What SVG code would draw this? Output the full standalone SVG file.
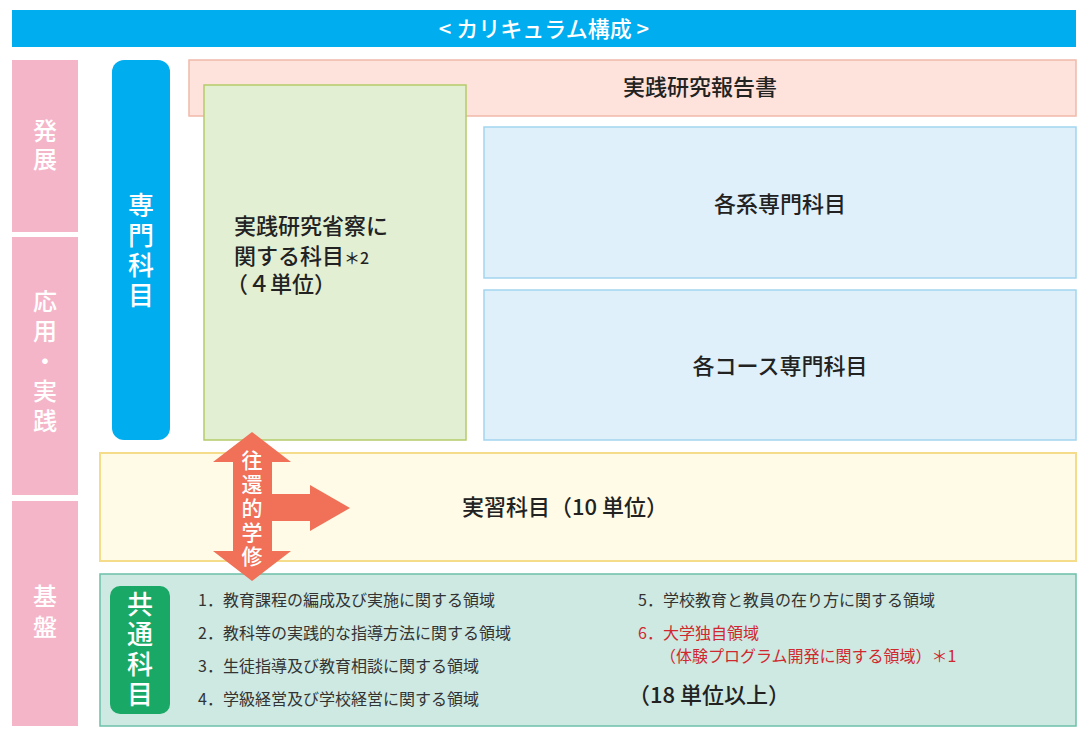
<svg xmlns="http://www.w3.org/2000/svg" width="1088" height="736" viewBox="0 0 1088 736">
<style>
text{font-family:"Noto Sans CJK JP","Noto Sans",sans-serif;}
.w{fill:#fff;font-size:24px;text-anchor:middle;font-weight:500;}
.t{fill:#222;font-size:22px;font-weight:500;}
.s{fill:#333;font-size:16px;}
.r{fill:#d0282e;}
.pk{fill:#f5b5c9;}
.bl{fill:#dff0fa;stroke:#a3d5ef;stroke-width:1.5;}
</style>
<rect width="1088" height="736" fill="#fff"/>
<g id="title"><rect x="12" y="10" width="1064" height="37" fill="#00aeef"/><text x="544" y="37" class="w" style="font-size:22px">&lt;  カリキュラム構成  &gt;</text></g>
<g id="hatten"><rect x="12" y="60" width="66" height="172" class="pk"/><text class="w" x="45" y="140">発</text><text class="w" x="45" y="168">展</text></g>
<g id="ouyou"><rect x="12" y="237" width="66" height="258" class="pk"/><text class="w" x="45" y="310">応</text><text class="w" x="45" y="340">用</text><text class="w" x="45" y="370">・</text><text class="w" x="45" y="400">実</text><text class="w" x="45" y="430">践</text></g>
<g id="kiban"><rect x="12" y="501" width="66" height="225" class="pk"/><text class="w" x="45" y="605">基</text><text class="w" x="45" y="636">盤</text></g>
<g id="senmon"><rect x="112" y="60" width="58" height="380" rx="12" fill="#00aeef"/><text class="w" x="141" y="215" style="font-size:26px">専</text><text class="w" x="141" y="245" style="font-size:26px">門</text><text class="w" x="141" y="275" style="font-size:26px">科</text><text class="w" x="141" y="305" style="font-size:26px">目</text></g>
<g id="report"><rect x="189" y="60" width="887" height="56" fill="#fde3dc" stroke="#f0b9a8" stroke-width="1.5"/><text class="t" x="700" y="95" text-anchor="middle">実践研究報告書</text></g>
<g id="seisatsu"><rect x="204" y="85" width="262" height="355" fill="#e3efd2" stroke="#b5cc6a" stroke-width="1.5"/><text class="t" x="234" y="234">実践研究省察に</text><text class="t" x="234" y="264">関する科目<tspan style="font-size:16px">＊2</tspan></text><text class="t" x="226" y="292">（４単位）</text></g>
<g id="kakukei"><rect x="484" y="127" width="592" height="151" class="bl"/><text class="t" x="780" y="212" text-anchor="middle">各系専門科目</text></g>
<g id="course"><rect x="484" y="290" width="592" height="150" class="bl"/><text class="t" x="780" y="374" text-anchor="middle">各コース専門科目</text></g>
<g id="jisshu"><rect x="100" y="453" width="976" height="108" fill="#fffbe6" stroke="#f5dc8a" stroke-width="2"/><text class="t" x="565" y="515" text-anchor="middle">実習科目（10 単位）</text></g>
<g id="kyotsu"><rect x="100" y="574" width="976" height="152" fill="#cde9e2" stroke="#6cc0a8" stroke-width="1.5"/>
<rect x="110" y="586" width="60" height="128" rx="10" fill="#1aa866"/><text class="w" x="140" y="614" style="font-size:26px">共</text><text class="w" x="140" y="644" style="font-size:26px">通</text><text class="w" x="140" y="674" style="font-size:26px">科</text><text class="w" x="140" y="704" style="font-size:26px">目</text>
<text class="s" x="198" y="606">1．教育課程の編成及び実施に関する領域</text>
<text class="s" x="198" y="639">2．教科等の実践的な指導方法に関する領域</text>
<text class="s" x="198" y="672">3．生徒指導及び教育相談に関する領域</text>
<text class="s" x="198" y="705">4．学級経営及び学校経営に関する領域</text>
<text class="s" x="638" y="606">5．学校教育と教員の在り方に関する領域</text>
<text class="s r" x="638" y="639">6．大学独自領域</text>
<text class="s r" x="660" y="662">（体験プログラム開発に関する領域）＊1</text>
<text class="t" x="628" y="703">（18 単位以上）</text></g>
<g id="connectors"><path d="M252 432 L291 462 L272 462 L272 494 L310 494 L310 485 L350 508 L310 531 L310 521 L272 521 L272 551 L291 551 L252 581 L213 551 L233 551 L233 462 L213 462 Z" fill="#f07058"/>
<g class="w" style="font-size:21px"><text x="252" y="468">往</text><text x="252" y="492">還</text><text x="252" y="516">的</text><text x="252" y="540">学</text><text x="252" y="564">修</text></g></g>
</svg>
